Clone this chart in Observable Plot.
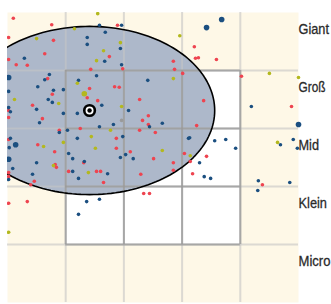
<!DOCTYPE html>
<html>
<head>
<meta charset="utf-8">
<script src="https://cdn.jsdelivr.net/npm/d3@7"></script>
<script src="https://cdn.jsdelivr.net/npm/@observablehq/plot@0.6"></script>
<style>
  html, body { margin: 0; padding: 0; background: #fff; }
</style>
</head>
<body>
<div id="chart"></div>
<script>
// Row labels (y categories, bottom to top) and where they sit on the y scale
const rowLabels = ["Micro", "Klein", "Mid", "Groß", "Giant"];
const labelPositions = [0.72, 1.72, 2.72, 3.72, 4.72];
const gridLines = [1, 2, 3, 4];
const whiteBlock = [{x1: 1, x2: 4, y1: 1, y2: 4}];

// Ellipse (center, radii) and target marker
const ellipseCenter = [1.41, 3.31];
const ellipseRadii = [2.15, 1.45];

// Scatter points [x, y, sizeClass]
const redPoints = [
  [0.10,4.90],[0.76,4.79],[1.89,4.78],[0.02,4.57],[0.79,4.52],[3.21,4.41],[0.64,4.29],[1.75,4.24],
  [3.23,4.21],[3.28,4.22],[3.59,4.19],[2.85,4.16],[0.02,4.19],[0.15,4.10],[0.34,4.09],[1.43,4.02],
  [1.98,4.03],[2.87,4.02],[3.01,3.95],[0.69,3.86],[4.02,3.90],[1.41,3.69],[1.84,3.72],[1.92,3.71],
  [0.77,3.59],[1.37,3.53],[1.55,3.48],[2.27,3.50],[3.37,3.48],[0.43,3.40],[4.88,3.38],[0.02,3.31],
  [2.42,3.22],[0.02,3.19],[0.60,3.17],[2.32,3.14],[2.42,3.07],[3.25,3.05],[1.25,3.00],[0.89,2.97],
  [2.27,2.97],[2.54,2.93],[1.87,2.83],[0.02,2.81],[0.52,2.72],[1.87,2.66],[0.81,2.60],[2.11,2.60],
  [3.04,2.57],[2.51,2.48],[3.42,2.52],[3.14,2.43],[2.85,2.41],[1.31,2.41],[0.82,2.38],[0.84,2.33],
  [2.85,2.28],[1.05,2.26],[1.53,2.26],[1.60,2.26],[0.02,2.24],[0.02,2.17],[3.18,2.22],[2.29,2.21],
  [0.46,2.09],[1.65,2.07],[0.40,2.03],[4.38,2.03],[2.34,1.88],[2.44,1.88],[0.02,1.71],[0.34,1.74]
];
const bluePoints = [
  [1.58,4.78],[1.96,4.78],[1.68,4.66],[1.37,4.57],[1.37,4.45],[1.94,4.38],[0.29,4.21],[1.67,4.16],
  [1.96,4.10],[0.72,3.93],[0.64,3.84],[1.53,3.91],[1.22,3.83],[0.02,3.88,2],[2.41,3.83],[0.52,3.72],
  [0.96,3.67],[0.79,3.66],[0.02,3.64],[0.70,3.50],[0.77,3.45],[0.02,3.36],[1.62,3.40],[0.50,3.33],
  [0.05,3.29],[2.08,3.31],[0.96,3.26],[1.20,3.26],[0.55,3.10],[1.82,3.07],[2.44,3.03],[2.66,3.09],
  [1.58,3.03],[1.03,2.97],[0.89,2.93],[1.98,2.86],[1.20,2.83],[3.11,2.83],[0.05,2.83],[0.14,2.72,2],
  [0.03,2.67],[1.05,2.57],[1.12,2.48],[0.02,2.47,2],[0.50,2.41],[1.32,2.43],[2.03,2.55],[1.94,2.50],
  [2.16,2.48],[0.09,2.31],[1.12,2.26],[0.43,2.21],[1.72,2.22],[1.22,2.14],[0.02,2.12],[1.36,1.74],
  [1.58,1.78],[1.22,1.52],[3.13,2.84],[3.56,2.79],[3.75,2.81],[3.92,2.66],[3.30,2.41],[3.38,2.17],
  [3.49,2.14],[3.68,4.88,2],[3.42,4.74,2],[4.19,3.38],[5.00,3.07,2],[4.69,2.72],[4.91,2.81],[4.98,2.66],
  [4.31,2.10],[4.30,1.93],[4.85,2.07]
];
const yellowPoints = [
  [1.55,4.98],[1.15,4.72],[0.50,4.55],[2.96,4.60],[1.65,4.34],[1.94,4.48],[1.53,4.17],[2.85,3.86],
  [4.50,3.95],[5.00,3.88],[1.20,3.78],[1.32,3.60,2],[0.12,3.50],[0.88,3.43],[1.96,3.38],[1.77,2.97],
  [1.44,2.86],[0.96,2.76],[0.62,2.69],[1.51,2.66],[2.66,2.62],[3.14,2.53],[4.64,2.76],[0.79,2.36],
  [1.39,2.24],[0.02,1.21]
];
const grayPoints = [[1.96,3.14]];

const toRows = (arr, c) => arr.map(([x, y, s = 1]) => ({x, y, s, c}));
const points = [
  ...toRows(redPoints, "S1"),
  ...toRows(bluePoints, "S2"),
  ...toRows(yellowPoints, "S3"),
  ...toRows(grayPoints, "S4")
];

const ellipsePts = d3.range(0, 360, 2).map(a => {
  const t = a * Math.PI / 180;
  return {x: ellipseCenter[0] + ellipseRadii[0] * Math.cos(t), y: ellipseCenter[1] + ellipseRadii[1] * Math.sin(t)};
});
const target = [{x: ellipseCenter[0], y: ellipseCenter[1]}];

const chart = Plot.plot({
  width: 331,
  height: 304,
  marginLeft: 7,
  marginRight: 33,
  marginTop: 12,
  marginBottom: 2,
  x: {domain: [0, 5], axis: null},
  y: {domain: [0, 5], axis: null},
  r: {type: "linear", domain: [1, 2], range: [1.8, 2.8]},
  color: {domain: ["S1", "S2", "S3", "S4"], range: ["#ee4450", "#1b4f80", "#b3b81e", "#9a9a9a"]},
  style: {fontFamily: "'Liberation Sans', Arial, sans-serif", background: "white", overflow: "visible"},
  marks: [
    Plot.frame({fill: "#fef8e7", stroke: null}),
    Plot.rect(whiteBlock, {x1: "x1", x2: "x2", y1: "y1", y2: "y2", fill: "white"}),
    Plot.line(ellipsePts, {x: "x", y: "y", fill: "#adb8ca", stroke: "none", curve: "linear-closed", clip: true}),
    Plot.ruleX(gridLines, {x: d => d, stroke: "#c4c4c4", strokeOpacity: 0.6, strokeWidth: 2}),
    Plot.ruleY(gridLines, {y: d => d, stroke: "#c4c4c4", strokeOpacity: 0.6, strokeWidth: 2}),
    Plot.ruleX(gridLines, {x: d => d, y1: 1, y2: 4, stroke: "#9a9a9a", strokeOpacity: 0.8, strokeWidth: 2}),
    Plot.ruleY(gridLines, {y: d => d, x1: 1, x2: 4, stroke: "#9a9a9a", strokeOpacity: 0.8, strokeWidth: 2}),
    Plot.line(ellipsePts, {x: "x", y: "y", fill: "none", stroke: "black", strokeWidth: 1.6, curve: "linear-closed", clip: true}),
    Plot.dot(points.filter(d => d.x < 2.5), {x: "x", y: "y", r: "s", fill: "c", clip: true}),
    Plot.dot(points.filter(d => d.x >= 2.5), {x: "x", y: "y", r: "s", fill: "c"}),
    Plot.dot(target, {x: "x", y: "y", r: 5.3, fill: "white", stroke: "black", strokeWidth: 2.6}),
    Plot.dot(target, {x: "x", y: "y", r: 2.2, fill: "black"}),
    Plot.axisY(labelPositions, {
      anchor: "right", tickSize: 0, tickPadding: 0, fontSize: 15, fill: "#2a2a2a",
      tickFormat: d => rowLabels[labelPositions.indexOf(d)]
    })
  ]
});
document.getElementById("chart").appendChild(chart);

// condensed look: scale each label horizontally to the width it has in the reference
const labelWidths = {"Giant": 30.5, "Groß": 27, "Mid": 20.5, "Klein": 28.5, "Micro": 32};
chart.querySelectorAll("text").forEach(t => {
  const w = labelWidths[t.textContent];
  if (w) {
    const natural = t.getComputedTextLength();
    const k = natural > 0 ? w / natural : 1;
    const base = t.getAttribute("transform") || "";
    t.setAttribute("transform", base + " scale(" + k + ",1)");
    t.setAttribute("stroke", "#2a2a2a");
    t.setAttribute("stroke-width", "0.3");
  }
});
</script>
</body>
</html>
